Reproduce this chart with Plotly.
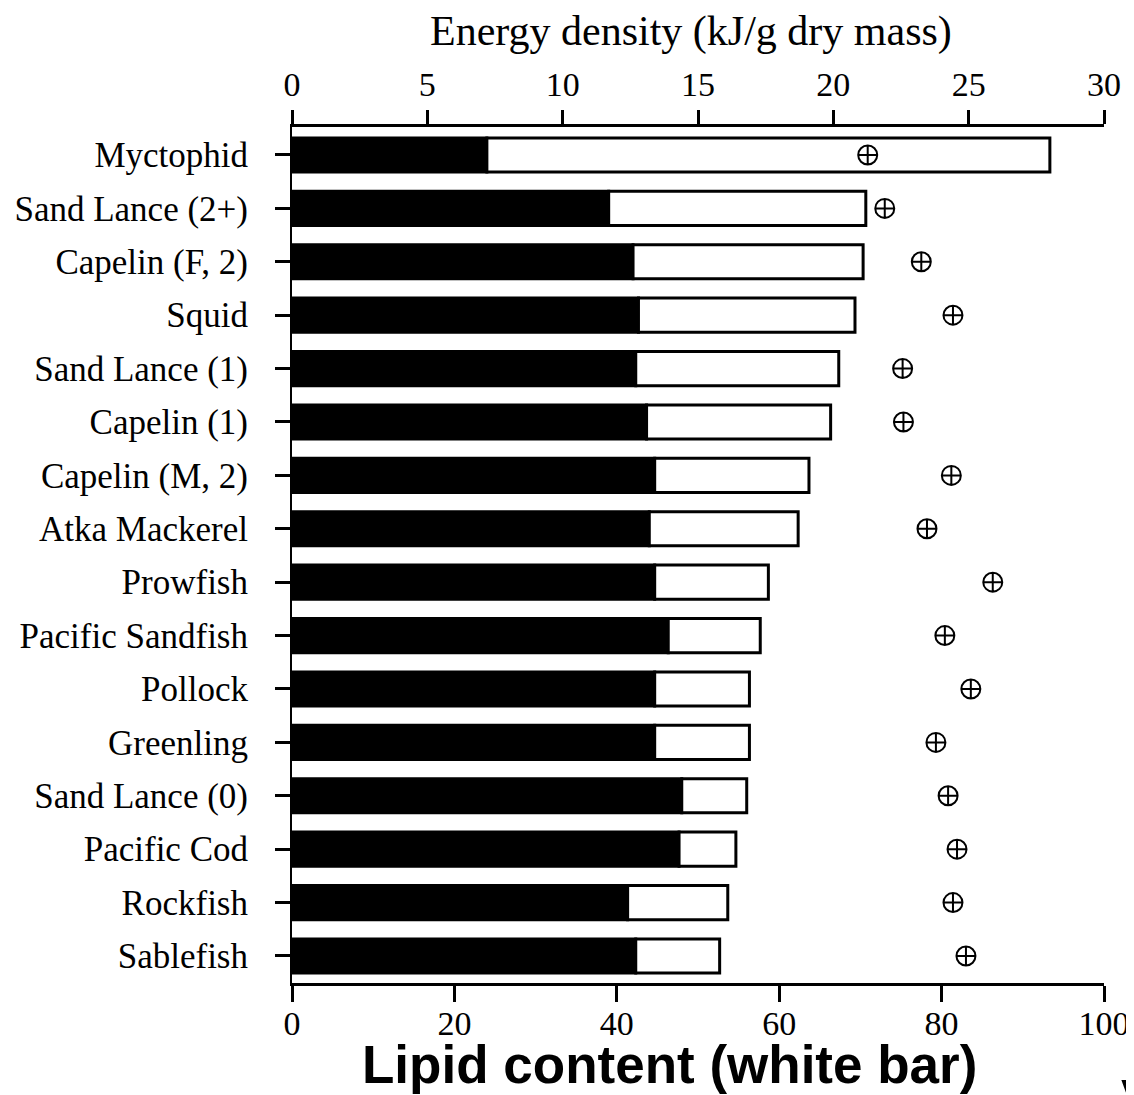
import plotly.graph_objects as go

species = ["Myctophid", "Sand Lance (2+)", "Capelin (F, 2)", "Squid", "Sand Lance (1)",
           "Capelin (1)", "Capelin (M, 2)", "Atka Mackerel", "Prowfish", "Pacific Sandfish",
           "Pollock", "Greenling", "Sand Lance (0)", "Pacific Cod", "Rockfish", "Sablefish"]
# energy density (kJ/g dry mass): end of black part and end of whole bar
black_end = [7.2, 11.7, 12.6, 12.8, 12.7, 13.1, 13.4, 13.2, 13.4, 13.9,
             13.4, 13.4, 14.4, 14.3, 12.4, 12.7]
bar_total = [28.0, 21.2, 21.1, 20.8, 20.2, 19.9, 19.1, 18.7, 17.6, 17.3,
             16.9, 16.9, 16.8, 16.4, 16.1, 15.8]
# circled-cross markers read on the bottom (0-100) axis
marker_pct = [70.9, 73.0, 77.5, 81.4, 75.2, 75.3, 81.2, 78.2, 86.3, 80.4,
              83.6, 79.3, 80.8, 81.9, 81.4, 83.0]
top_ticks = [0, 5, 10, 15, 20, 25, 30]
bottom_ticks = [0, 20, 40, 60, 80, 100]

white_len = [t - b for t, b in zip(bar_total, black_end)]

SERIF = "Liberation Serif, Times New Roman, serif"
SANS = "Liberation Sans, Arial, sans-serif"

# page offset of the figure (default body margin) is 8 px
PLOT_L, PLOT_R, PLOT_T, PLOT_B = 292, 1104, 127, 983
PW, PH = PLOT_R - PLOT_L, PLOT_B - PLOT_T

fig = go.Figure()
fig.add_trace(go.Bar(
    y=species, x=black_end, base=0, orientation="h", xaxis="x", yaxis="y",
    marker=dict(color="black", line=dict(color="black", width=3)),
    width=0.64, showlegend=False))
fig.add_trace(go.Bar(
    y=species, x=white_len, base=black_end, orientation="h", xaxis="x", yaxis="y",
    marker=dict(color="white", line=dict(color="black", width=3)),
    width=0.64, showlegend=False))
fig.add_trace(go.Scatter(
    y=species, x=marker_pct, mode="markers", xaxis="x2", yaxis="y",
    marker=dict(symbol="circle-cross-open", size=19, color="black",
                line=dict(color="black", width=2)),
    showlegend=False))

fig.update_layout(
    template="none",
    width=1126, height=1087,
    margin=dict(l=PLOT_L - 8, r=1134 - PLOT_R, t=PLOT_T - 8, b=1095 - PLOT_B),
    paper_bgcolor="white", plot_bgcolor="white",
    barmode="overlay",
    font=dict(family=SERIF, color="black"),
    xaxis=dict(range=[0, 30], tickvals=top_ticks, side="top",
               showline=True, linecolor="black", linewidth=3,
               ticks="outside", ticklen=14, tickwidth=3, tickcolor="black",
               tickfont=dict(family=SERIF, size=34), showgrid=False, zeroline=False,
               automargin=False),
    xaxis2=dict(range=[0, 100], tickvals=bottom_ticks, side="bottom", overlaying="x",
                anchor="y",
                showline=True, linecolor="black", linewidth=3,
                ticks="outside", ticklen=16, tickwidth=3, tickcolor="black",
                ticklabelstandoff=-8,
                tickfont=dict(family=SERIF, size=34), showgrid=False, zeroline=False,
                automargin=False),
    yaxis=dict(categoryorder="array", categoryarray=species,
               range=[15.506, -0.524], showline=True, linecolor="black", linewidth=2,
               ticks="outside", ticklen=15, tickwidth=3, tickcolor="black",
               ticklabelstandoff=20, automargin=False,
               tickfont=dict(family=SERIF, size=35), showgrid=False, zeroline=False),
    annotations=[
        dict(text="Energy density (kJ/g dry mass)", xref="paper", yref="paper",
             x=(691 - PLOT_L) / PW, y=1 + (PLOT_T - 32) / PH,
             xanchor="center", yanchor="middle",
             showarrow=False, font=dict(family=SERIF, size=42, color="black")),
        dict(text="<b>Lipid content (white bar)</b>", xref="paper", yref="paper",
             x=(669 - PLOT_L) / PW, y=-(1064 - PLOT_B) / PH,
             xanchor="center", yanchor="middle",
             showarrow=False, font=dict(family=SANS, size=53, color="black")),
        dict(text="<b>V</b>", xref="paper", yref="paper",
             x=(1119 - PLOT_L) / PW, y=-(1098 - PLOT_B) / PH,
             xanchor="left", yanchor="middle",
             showarrow=False, font=dict(family=SANS, size=53, color="black")),
    ],
)

fig.write_html("out.html")
